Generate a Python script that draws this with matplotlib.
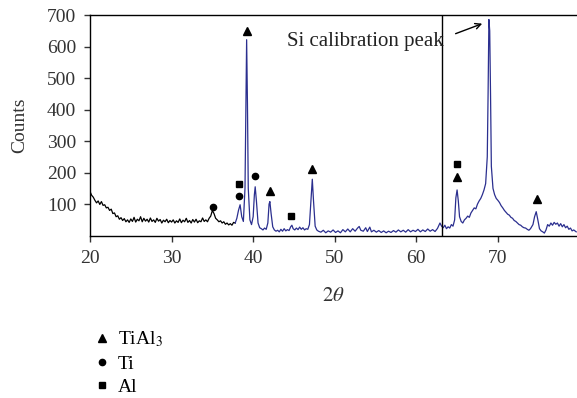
import numpy as np
import matplotlib
matplotlib.use('Agg')
import matplotlib.pyplot as plt
from matplotlib.lines import Line2D

plt.rcParams['font.family'] = ['Liberation Serif', 'DejaVu Serif']
plt.rcParams['mathtext.fontset'] = 'stix'

# black part of the scan (low angle)
black_x = [20.0, 20.2, 20.4, 20.6, 20.8, 21.0, 21.2, 21.4, 21.6, 21.8, 22.0, 22.2, 22.4, 22.6, 22.8,
           23.0, 23.2, 23.4, 23.6, 23.8, 24.0, 24.2, 24.4, 24.6, 24.8, 25.0, 25.2, 25.4, 25.6, 25.8,
           26.0, 26.2, 26.4, 26.6, 26.8, 27.0, 27.2, 27.4, 27.6, 27.8, 28.0, 28.2, 28.4, 28.6, 28.8,
           29.0, 29.2, 29.4, 29.6, 29.8, 30.0, 30.2, 30.4, 30.6, 30.8, 31.0, 31.2, 31.4, 31.6, 31.8,
           32.0, 32.2, 32.4, 32.6, 32.8, 33.0, 33.2, 33.4, 33.6, 33.8, 34.0, 34.2, 34.4, 34.6, 34.8,
           35.0, 35.2, 35.4, 35.6, 35.8, 36.0, 36.2, 36.4, 36.6, 36.8, 37.0, 37.2, 37.4, 37.6, 37.8]
black_y = [140, 128, 122, 112, 104, 110, 99, 108, 96, 98, 88, 90, 80, 84, 70,
           72, 60, 63, 52, 57, 48, 54, 44, 50, 42, 53, 45, 58, 43, 52,
           47, 60, 44, 55, 46, 52, 43, 56, 45, 50, 42, 55, 46, 51, 40,
           49, 44, 52, 41, 48, 43, 50, 40, 47, 42, 53, 41, 49, 44, 55,
           42, 48, 40, 51, 43, 52, 41, 47, 44, 56, 45, 50, 44, 55, 62,
           80, 70, 55, 50, 44, 47, 40, 44, 36, 40, 34, 38, 33, 42, 40]

# blue part of the scan
blue_x = [37.8, 38.0, 38.2, 38.4, 38.6, 38.8, 39.0, 39.1, 39.2, 39.3, 39.4, 39.6, 39.8, 40.0, 40.15,
          40.25, 40.4, 40.6, 40.8, 41.0, 41.2, 41.4, 41.6, 41.8, 41.95, 42.05, 42.2, 42.4, 42.6, 42.8,
          43.0, 43.2, 43.4, 43.6, 43.8, 44.0, 44.2, 44.4, 44.6, 44.75, 44.9, 45.1, 45.3, 45.5, 45.7,
          45.9, 46.1, 46.3, 46.5, 46.7, 46.9, 47.1, 47.25, 47.4, 47.6, 47.8, 48.0, 48.3, 48.6, 48.9,
          49.2, 49.5, 49.8, 50.1, 50.4, 50.7, 51.0, 51.3, 51.6, 51.9, 52.2, 52.5, 52.8, 53.0, 53.2,
          53.5, 53.8, 54.0, 54.3, 54.5, 54.8, 55.1, 55.4, 55.7, 56.0, 56.3, 56.6, 56.9, 57.2, 57.5,
          57.8, 58.1, 58.4, 58.7, 59.0, 59.3, 59.6, 59.9, 60.2, 60.5, 60.8, 61.1, 61.4, 61.7, 62.0,
          62.3, 62.6, 62.9, 63.1, 63.3, 63.5, 63.7, 63.9, 64.1, 64.3, 64.5, 64.7, 64.85, 65.0, 65.15,
          65.3, 65.5, 65.7, 65.9, 66.1, 66.3, 66.5, 66.7, 66.9, 67.1, 67.3, 67.5, 67.7, 67.9, 68.1,
          68.3, 68.5, 68.7, 68.8, 68.9, 69.0, 69.1, 69.2, 69.4, 69.6, 69.8, 70.0, 70.2, 70.4, 70.6,
          70.8, 71.0, 71.2, 71.4, 71.6, 71.8, 72.0, 72.2, 72.4, 72.6, 72.8, 73.0, 73.2, 73.4, 73.6,
          73.8, 74.0, 74.3, 74.5, 74.7, 74.9, 75.1, 75.3, 75.5, 75.7, 75.9, 76.1, 76.3, 76.5, 76.7,
          76.9, 77.1, 77.3, 77.5, 77.7, 77.9, 78.1, 78.3, 78.5, 78.7, 78.9, 79.1, 79.3, 79.6]
blue_y = [40, 55, 80, 98, 60, 45, 150, 400, 622, 420, 150, 50, 35, 60, 130,
          155, 110, 40, 25, 22, 18, 24, 20, 40, 100, 108, 70, 28, 18, 14,
          17, 12, 20, 14, 22, 15, 19, 16, 28, 33, 22, 18, 24, 19, 27,
          20, 25, 18, 22, 20, 35, 120, 179, 110, 30, 18, 14, 11, 17, 9,
          15, 11, 18, 10, 15, 9, 19, 12, 21, 12, 22, 14, 24, 29, 17,
          14, 25, 13, 27, 12, 17, 11, 16, 10, 15, 9, 14, 10, 16, 11,
          18, 12, 17, 11, 19, 12, 17, 13, 20, 12, 18, 13, 21, 14, 19,
          13, 23, 40, 30, 25, 33, 22, 28, 24, 35, 30, 50, 120, 145, 110,
          60, 45, 40, 50, 55, 62, 58, 72, 80, 88, 85, 100, 110, 118, 130,
          145, 165, 250, 450, 686, 650, 450, 220, 150, 130, 118, 112, 105, 95, 88,
          80, 74, 68, 65, 58, 55, 48, 45, 40, 35, 33, 28, 25, 24, 20,
          17, 22, 35, 60, 76, 50, 22, 15, 12, 8, 18, 35, 30, 40, 33,
          42, 36, 40, 30, 38, 28, 35, 25, 30, 20, 24, 15, 18, 12]

# phase markers
tial3_x = [39.2, 42.1, 47.25, 65.0, 74.8]
tial3_y = [649, 143, 211, 187, 115]
ti_x = [35.07, 38.26, 40.2]
ti_y = [92, 127, 190]
al_x = [38.26, 44.6, 65.0]
al_y = [164, 62, 228]

fig = plt.figure(figsize=(5.77, 3.98), dpi=100)
ax = fig.add_axes([0.156, 0.408, 0.844, 0.554])

ax.plot(black_x, black_y, color='black', lw=0.9)
ax.plot(blue_x, blue_y, color='#2b2f8f', lw=0.9)
ax.axvline(63.2, color='black', lw=1)

ax.plot(tial3_x, tial3_y, '^', color='black', ms=5.5, ls='none')
ax.plot(ti_x, ti_y, 'o', color='black', ms=4.5, ls='none')
ax.plot(al_x, al_y, 's', color='black', ms=4.5, ls='none')

ax.annotate('', xy=(68.4, 676), xytext=(64.5, 638),
            arrowprops=dict(arrowstyle='->', color='black', lw=1))
ax.text(44.1, 617, 'Si calibration peak', fontsize=15, va='center', ha='left', color='#222222')

ax.set_xlim(20, 79.7)
ax.set_ylim(0, 700)
ax.set_xticks([20, 30, 40, 50, 60, 70])
ax.set_yticks([100, 200, 300, 400, 500, 600, 700])
ax.tick_params(labelsize=14, direction='out', length=4, width=1, pad=6,
               colors='#333333', labelcolor='#333333')
ax.spines['right'].set_visible(False)
for s in ['left', 'bottom', 'top']:
    ax.spines[s].set_linewidth(1)
ax.set_xlabel(r'$2\theta$', fontsize=15, color='#333333', labelpad=15)
ax.set_ylabel('Counts', fontsize=14, color='#333333', labelpad=13)

handles = [Line2D([], [], marker='^', color='black', ls='none', ms=5.5),
           Line2D([], [], marker='o', color='black', ls='none', ms=4.5),
           Line2D([], [], marker='s', color='black', ls='none', ms=4.5)]
fig.legend(handles, ['TiAl$_3$', 'Ti', 'Al'], loc='upper left',
           bbox_to_anchor=(0.166, 0.172), frameon=False, fontsize=14,
           handlelength=0.6, handletextpad=0.55, labelspacing=0.3,
           borderaxespad=0, borderpad=0)

fig.savefig('out.png', dpi=100)
